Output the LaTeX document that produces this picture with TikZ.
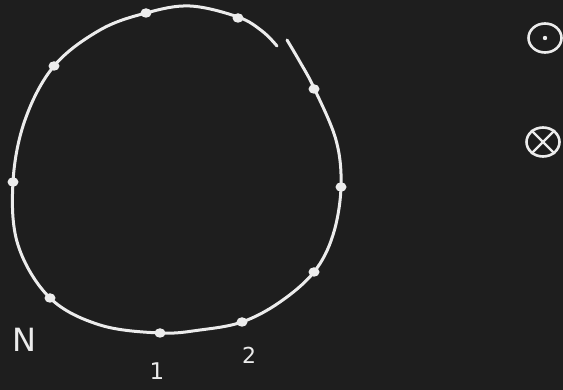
\documentclass[tikz,border=0pt]{standalone}
\usepackage{fontspec}
\newfontfamily\handfont{DejaVu Sans}
\usetikzlibrary{shapes.geometric}
\definecolor{bg}{HTML}{1E1E1E}
\definecolor{ink}{HTML}{ECECEC}
\tikzset{
  stroke/.style={draw=ink, line width=3pt, line cap=round, line join=round},
  bead/.style={fill=ink, ellipse, inner sep=0pt, minimum width=11pt, minimum height=9.5pt},
  lbl/.style={text=ink, inner sep=0pt},
  symb/.style={draw=ink, line width=2.6pt, ellipse, minimum width=33pt, minimum height=29pt, inner sep=0pt}
}
\begin{document}
\begin{tikzpicture}[x=1pt,y=-1pt]
\fill[bg] (0,0) rectangle (563,390);
\useasboundingbox (0,0) rectangle (563,390);
% ring, drawn with a small break at upper right
\draw[stroke] plot[smooth, tension=0.6] coordinates {
 (287,40) (300,62) (314,88) (336,140) (341,187) (333,235) (314,272) (280,302)
 (242,322) (200,330) (160,333) (100,325) (50,298) (18,245) (13,182) (25,120)
 (54,66) (100,30) (146,13) (190,6) (238,17) (262,31) (277,46)};
% beads
\node[bead] (b1) at (160,333) {};
\node[bead] (b2) at (242,322) {};
\node[bead] (b3) at (314,272) {};
\node[bead] (b4) at (341,187) {};
\node[bead] (b5) at (314,89) {};
\node[bead] (b6) at (238,18) {};
\node[bead] (b7) at (146,13) {};
\node[bead] (b8) at (54,66) {};
\node[bead] (b9) at (13,182) {};
\node[bead] (bN) at (50,298) {};
% labels
\node[lbl, font=\handfont\fontsize{32}{32}\selectfont] (lN) at (24,340) {N};
\node[lbl, font=\handfont\fontsize{23}{23}\selectfont] (l1) at (157,371) {1};
\node[lbl, font=\handfont\fontsize{22}{22}\selectfont] (l2) at (249,355) {2};
% out-of-page / into-page symbols
\node[symb] (odot) at (545,38) {};
\fill[ink] (odot.center) circle (2.2pt);
\node[symb] (otimes) at (543,142) {};
\draw[draw=ink, line width=2.4pt] (otimes.45) -- (otimes.225);
\draw[draw=ink, line width=2.4pt] (otimes.135) -- (otimes.315);
\end{tikzpicture}
\end{document}
